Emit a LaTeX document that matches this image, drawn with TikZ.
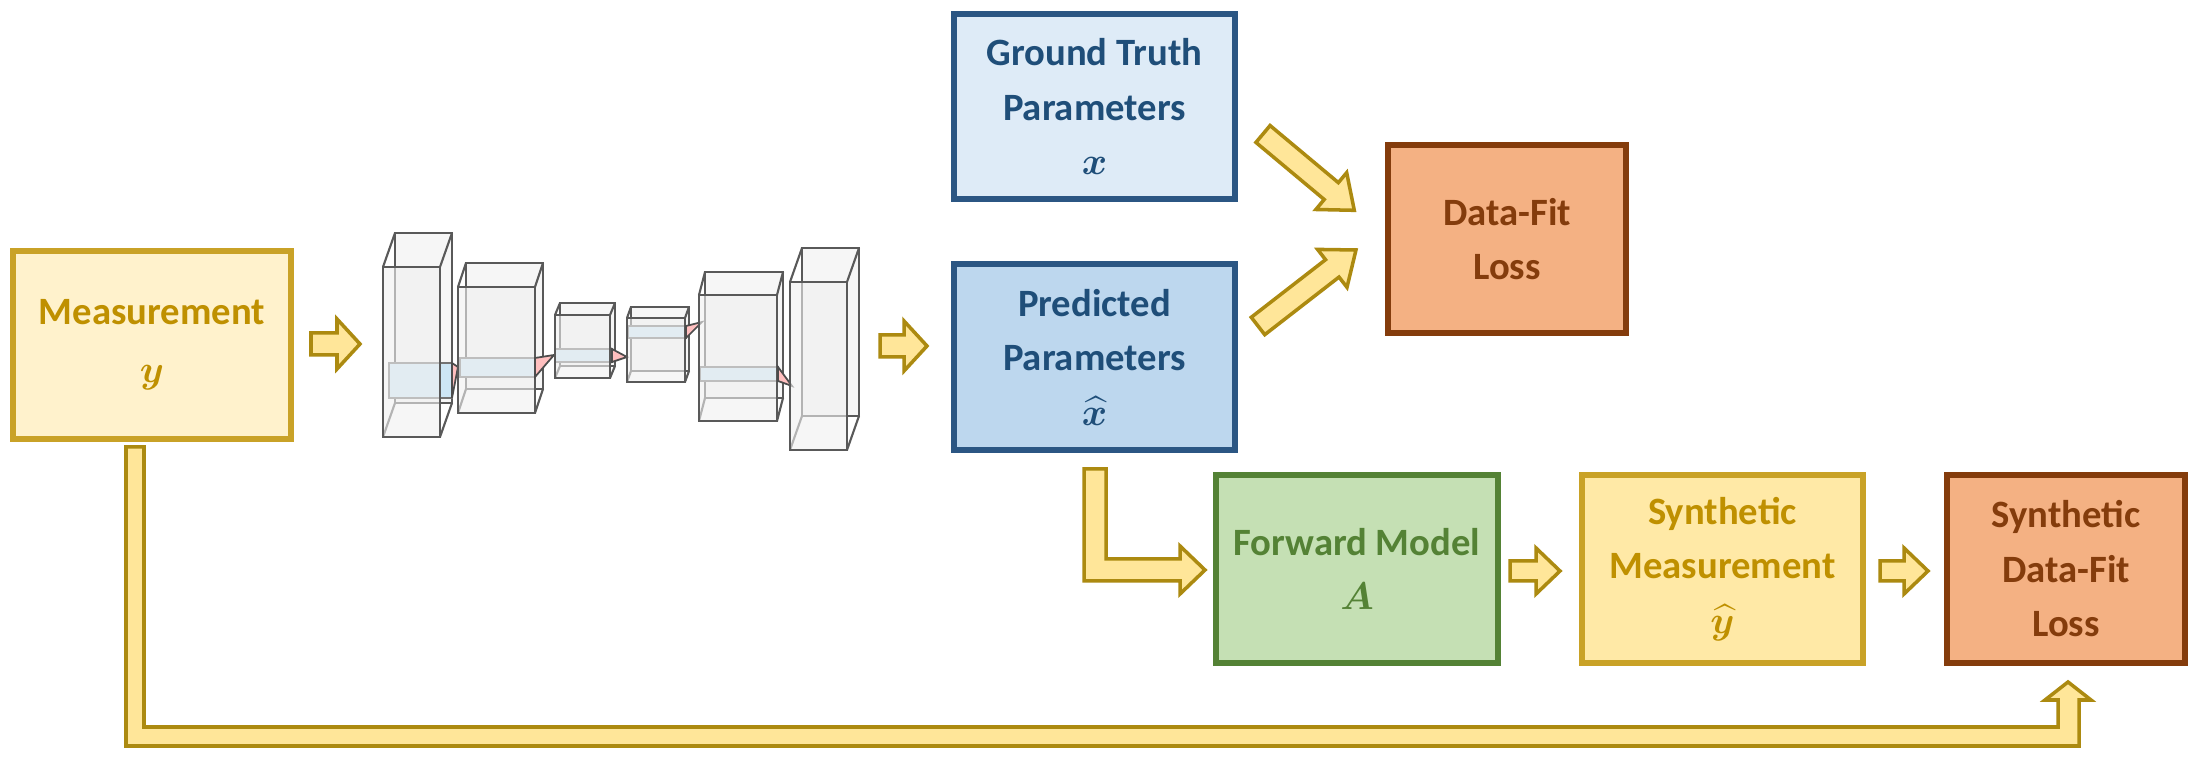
\documentclass[tikz,border=0pt]{standalone}
\usepackage{fontspec}
\usepackage{amsmath,bm}
\setmainfont{Carlito}
\begin{document}
\begin{tikzpicture}[x=0.01cm,y=-0.01cm,
  box/.style={draw,line width=1.6pt,align=center,font=\fontsize{11}{15.5}\selectfont\bfseries,inner sep=0pt},
  ylw/.style={box,fill=yfill,draw=ydraw,text=ytext},
  blu/.style={box,draw=bdraw,text=btext},
  org/.style={box,fill=ofill,draw=odraw,text=otext},
  grn/.style={box,fill=gfill,draw=gdraw,text=gtext},
  barr/.style={fill=afill,draw=adraw,line width=1pt,line join=miter},
  cube/.style={draw=black!65,line width=0.6pt,fill=black!6,fill opacity=0.6},
  strip/.style={draw=black!55,line width=0.5pt,fill=stripc},
  wedge/.style={draw=black!70,line width=0.5pt,fill=red!25}]
\definecolor{yfill}{HTML}{FFF2CC}\definecolor{ydraw}{HTML}{C9A227}\definecolor{ytext}{HTML}{BF9000}
\definecolor{bdraw}{HTML}{2B5683}\definecolor{btext}{HTML}{1F4E79}
\definecolor{bfillA}{HTML}{DEEBF7}\definecolor{bfillB}{HTML}{BDD7EE}
\definecolor{stripc}{HTML}{CDE6F5}
\definecolor{ofill}{HTML}{F4B183}\definecolor{odraw}{HTML}{843C0C}\definecolor{otext}{HTML}{843C0C}
\definecolor{gfill}{HTML}{C5E0B4}\definecolor{gdraw}{HTML}{548235}\definecolor{gtext}{HTML}{548235}
\definecolor{afill}{HTML}{FFE699}\definecolor{adraw}{HTML}{AC8A10}
\definecolor{synfill}{HTML}{FFE9A6}
\useasboundingbox (0,0) rectangle (2200,762);
\fill[white] (0,0) rectangle (2200,762);
\newcommand\myarrow[7]{\begin{scope}[shift={(#1,#2)},rotate=#3]
 \draw[barr] (0,-#5)--(#4-#7,-#5)--(#4-#7,-#6)--(#4,0)--(#4-#7,#6)--(#4-#7,#5)--(0,#5)--cycle;
 \end{scope}}
\newcommand\mycube[6]{%
 \draw[cube] (#1+#5,#2+#6) rectangle (#3+#5,#4+#6);
 \draw[black!65,line width=0.6pt] (#1,#2)--(#1+#5,#2+#6) (#3,#2)--(#3+#5,#2+#6) (#3,#4)--(#3+#5,#4+#6) (#1,#4)--(#1+#5,#4+#6);}
\newcommand\myfront[4]{\draw[cube] (#1,#2) rectangle (#3,#4);}
% boxes
\node[ylw,minimum width=2.78cm,minimum height=1.88cm] (meas) at (152,345) {Measurement\\[1pt]$\bm{y}$};
\node[blu,fill=bfillA,minimum width=2.81cm,minimum height=1.85cm] (gt) at (1094.5,106.5) {Ground Truth\\Parameters\\$\bm{x}$};
\node[blu,fill=bfillB,minimum width=2.81cm,minimum height=1.86cm] (pred) at (1094.5,357) {Predicted\\Parameters\\$\widehat{\bm{x}}$};
\node[org,minimum width=2.38cm,minimum height=1.88cm] (dfl) at (1507,239) {Data-Fit\\Loss};
\node[grn,minimum width=2.82cm,minimum height=1.88cm] (fwd) at (1357,569) {Forward Model\\$\bm{A}$};
\node[ylw,fill=synfill,minimum width=2.81cm,minimum height=1.88cm] (syn) at (1722.5,569) {Synthetic\\Measurement\\$\widehat{\bm{y}}$};
\node[org,minimum width=2.38cm,minimum height=1.88cm] (sloss) at (2066,569) {Synthetic\\Data-Fit\\Loss};
% network
\mycube{383}{267}{440}{437}{12}{-34}
\draw[strip] (389,363) rectangle (452,398);
\myfront{383}{267}{440}{437}
\draw[wedge] (452,363)--(458,367)--(452,398)--cycle;
\mycube{458}{287}{535}{413}{8}{-24}
\draw[strip] (460,358) rectangle (535,377);
\myfront{458}{287}{535}{413}
\draw[wedge] (535,358)--(554,355)--(535,377)--cycle;
\mycube{555}{315}{610}{378}{5}{-12}
\draw[strip] (555,349) rectangle (612,362);
\myfront{555}{315}{610}{378}
\draw[wedge] (612,349)--(627,357)--(612,362)--cycle;
\mycube{627}{318}{685}{382}{4}{-11}
\draw[strip] (628,326) rectangle (686,338);
\myfront{627}{318}{685}{382}
\draw[wedge] (686,326)--(702,322)--(686,338)--cycle;
\mycube{699}{295}{777}{421}{6}{-23}
\draw[strip] (700,367) rectangle (778,381);
\myfront{699}{295}{777}{421}
\draw[wedge] (778,367)--(792,386)--(778,381)--cycle;
\mycube{790}{282}{847}{450}{12}{-34}
\myfront{790}{282}{847}{450}
% straight block arrows
\myarrow{311}{344}{0}{49}{11}{25}{23}
\myarrow{880}{346}{0}{47}{11}{25}{23}
\myarrow{1510}{571}{0}{50}{10}{23}{24}
\myarrow{1880}{571}{0}{48}{10}{23}{24}
\myarrow{1263}{134}{-39.9}{119}{11}{24}{30}
\myarrow{1258}{326}{37.8}{124}{11}{24}{30}
% elbow arrows
\draw[barr] (1084,469)--(1106,469)--(1106,559)--(1180,559)--(1180,546)--(1205,570)--(1180,594)--(1180,581)--(1084,581)--cycle;
\draw[barr] (126,447)--(144,447)--(144,727)--(2058,727)--(2058,700)--(2045,700)--(2068,682)--(2091,700)--(2079,700)--(2079,746)--(126,746)--cycle;
\end{tikzpicture}
\end{document}
